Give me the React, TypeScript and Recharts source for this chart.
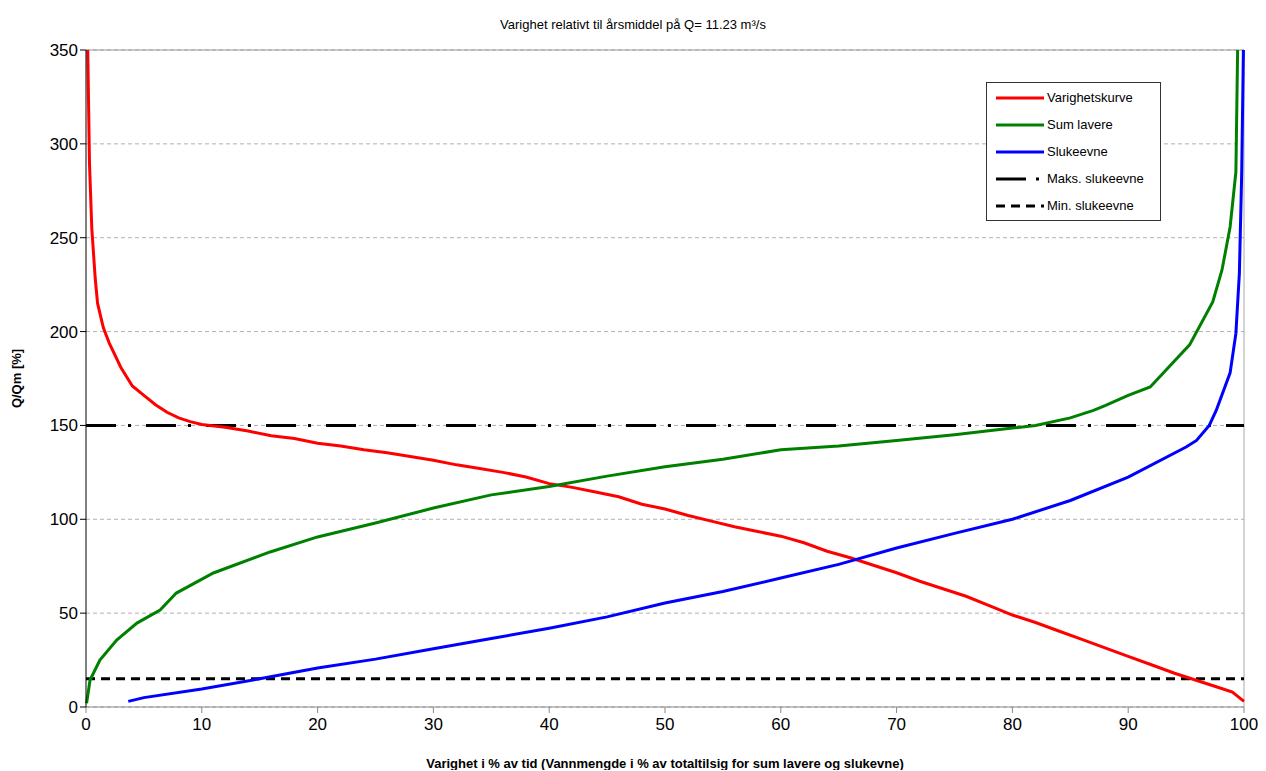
import { LineChart, Line, XAxis, YAxis, CartesianGrid, ReferenceLine, Label } from "recharts"

// Varighetskurve (red)
const redX = [0.15, 0.3, 0.5, 0.8, 1, 1.5, 2, 3, 4, 5, 6, 7, 8, 9, 10, 12, 14, 16, 18, 20, 22, 24, 26, 28, 30, 32, 34, 36, 38, 40, 42, 44, 46, 48, 50, 52, 54, 56, 58, 60, 62, 64, 66, 68, 70, 72, 74, 76, 78, 80, 82, 84, 86, 88, 90, 92, 94, 96, 98, 99, 100]
const redY = [350, 290, 255, 228, 215, 202, 194, 181, 171, 166, 161, 157, 154, 152, 150.5, 149, 147, 144.5, 143, 140.5, 139, 137, 135.5, 133.5, 131.5, 129, 127, 125, 122.5, 119, 117, 114.5, 112, 108, 105.5, 102, 99, 96, 93.5, 91, 87.5, 83, 79.5, 75.5, 71.5, 67, 63, 59, 54, 49, 45, 40.5, 36, 31.5, 27, 22.5, 18, 14, 10, 8, 3]

// Sum lavere (green)
const greenX = [0.05, 0.35, 1.2, 2.65, 4.4, 6.4, 7.8, 11, 15.9, 20, 25, 30, 35, 40, 45, 50, 55, 60, 65, 70, 75, 80, 82, 85, 87, 88, 90, 91.9, 95.3, 97.3, 98.1, 98.8, 99.3, 99.45]
const greenY = [2, 14.4, 25, 35.7, 44.7, 51.7, 60.7, 71.4, 82.6, 90.6, 98, 106, 113, 117.5, 123, 128, 132, 137, 139, 142, 145, 148.6, 150, 154, 158, 160.5, 166, 170.5, 192.9, 215.8, 232.8, 255.7, 285, 350]

// Slukeevne (blue)
const blueX = [3.65, 5, 10, 15, 20, 25, 30, 35, 40, 45, 50, 55, 60, 65, 70, 75, 80, 85, 90, 95, 95.9, 97, 97.6, 98.8, 99.3, 99.6, 99.8, 99.95]
const blueY = [3, 5, 9.6, 15, 20.8, 25.5, 31, 36.5, 42, 48, 55.4, 61.5, 68.7, 76, 84.7, 92.5, 100, 110, 122.5, 138.5, 142, 150, 158, 178, 199, 231, 284, 350]

const xTicks = [0, 10, 20, 30, 40, 50, 60, 70, 80, 90, 100]
const yTicks = [0, 50, 100, 150, 200, 250, 300, 350]
const maksSlukeevne = 150
const minSlukeevne = 15

const toPoints = (xs: number[], ys: number[]) => xs.map((x, i) => ({ x, v: ys[i] }))

const legendItems = [
  { name: "Varighetskurve", color: "#ff0000", dash: undefined as string | undefined },
  { name: "Sum lavere", color: "#008000", dash: undefined },
  { name: "Slukeevne", color: "#0000ff", dash: undefined },
  { name: "Maks. slukeevne", color: "#000000", dash: "30 10 3 10" },
  { name: "Min. slukeevne", color: "#000000", dash: "9 6" },
]

const font = "'Liberation Sans', Arial, sans-serif"

function ChartLegend() {
  return (
    <div
      style={{
        position: "absolute",
        left: 978,
        top: 74,
        border: "1px solid #333",
        background: "#fff",
        width: 173,
        padding: "1px 0 1px 0",
        fontFamily: font,
        fontSize: 13,
        color: "#000",
      }}
    >
      {legendItems.map((it) => (
        <div key={it.name} style={{ display: "flex", alignItems: "center", height: 27 }}>
          <svg width={56} height={10} style={{ marginLeft: 9 }}>
            <line x1={0} y1={5} x2={48} y2={5} stroke={it.color} strokeWidth={3} strokeDasharray={it.dash} />
          </svg>
          <span style={{ marginLeft: -5 }}>{it.name}</span>
        </div>
      ))}
    </div>
  )
}

export default function App() {
  return (
    <div style={{ position: "relative", width: 1250, height: 762 }}>
      <div
        style={{
          position: "absolute",
          top: 9,
          left: 0,
          width: 1250,
          textAlign: "center",
          fontFamily: font,
          fontSize: 13,
          color: "#000",
        }}
      >
        Varighet relativt til årsmiddel på Q= 11.23 m³/s
      </div>
      <LineChart width={1250} height={762} margin={{ top: 42, right: 14, left: 20, bottom: 2 }}>
        <CartesianGrid vertical={false} stroke="#b0b0b0" strokeDasharray="4 3" />
        <XAxis
          type="number"
          dataKey="x"
          domain={[0, 100]}
          ticks={xTicks}
          allowDuplicatedCategory={false}
          stroke="#888"
          tick={{ fill: "#000", fontSize: 17, fontFamily: font, dy: 3 }}
          tickSize={6}
          height={61}
        >
          <Label
            value="Varighet i % av tid (Vannmengde i % av totaltilsig for sum  lavere og slukevne)"
            position="insideBottom"
            offset={0}
            style={{ fontFamily: font, fontSize: 13, fontWeight: "bold", fill: "#000" }}
          />
        </XAxis>
        <YAxis
          type="number"
          domain={[0, 350]}
          ticks={yTicks}
          allowDataOverflow
          stroke="#000"
          tick={{ fill: "#000", fontSize: 17, fontFamily: font }}
          tickSize={6}
          width={58}
        >
          <Label
            value="Q/Qm [%]"
            angle={-90}
            position="insideLeft"
            offset={-12}
            style={{ fontFamily: font, fontSize: 13, fontWeight: "bold", fill: "#000", textAnchor: "middle" }}
          />
        </YAxis>
        <ReferenceLine y={350} stroke="#999" />
        <ReferenceLine x={100} stroke="#aaa" />
        <ReferenceLine y={maksSlukeevne} stroke="#000" strokeWidth={3} strokeDasharray="30 12 3 15" />
        <ReferenceLine y={minSlukeevne} stroke="#000" strokeWidth={3} strokeDasharray="9 6" />
        <Line
          data={toPoints(redX, redY)}
          dataKey="v"
          name="Varighetskurve"
          stroke="#ff0000"
          strokeWidth={3}
          dot={false}
          isAnimationActive={false}
        />
        <Line
          data={toPoints(greenX, greenY)}
          dataKey="v"
          name="Sum lavere"
          stroke="#008000"
          strokeWidth={3}
          dot={false}
          isAnimationActive={false}
        />
        <Line
          data={toPoints(blueX, blueY)}
          dataKey="v"
          name="Slukeevne"
          stroke="#0000ff"
          strokeWidth={3}
          dot={false}
          isAnimationActive={false}
        />
      </LineChart>
      <ChartLegend />
    </div>
  )
}
